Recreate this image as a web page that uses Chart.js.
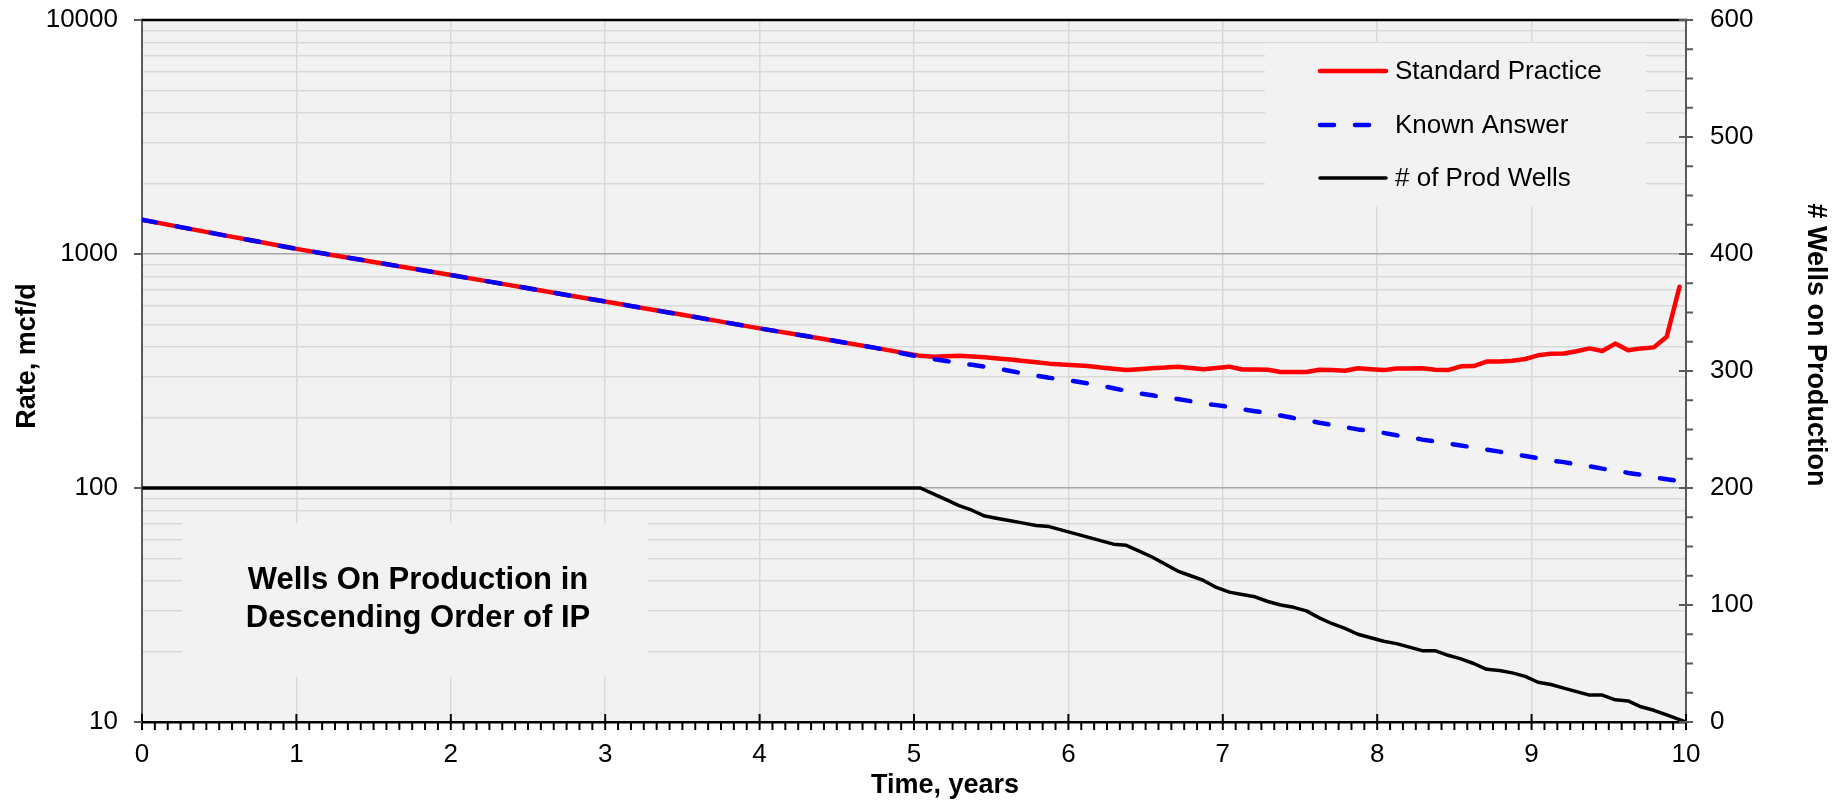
<!DOCTYPE html>
<html>
<head>
<meta charset="utf-8">
<title>Wells On Production</title>
<script src="https://cdn.jsdelivr.net/npm/chart.js@4.4.1/dist/chart.umd.min.js"></script>
<style>
  html, body { margin: 0; padding: 0; background: #ffffff; }
  canvas { display: block; }
</style>
</head>
<body>
<canvas id="wellsChart" width="1841" height="802"></canvas>
<script>
// Values.
// Rate curves: quarterly points in the first five years, mid-month points after that.
const rateMonths = [
    0, 3, 6, 9, 12, 15, 18, 21, 24, 27, 30, 33, 36, 39, 42, 45, 48, 51, 54, 57,
    60.5, 61.5, 62.5, 63.5, 64.5, 65.5, 66.5, 67.5, 68.5, 69.5,
    70.5, 71.5, 72.5, 73.5, 74.5, 75.5, 76.5, 77.5, 78.5, 79.5,
    80.5, 81.5, 82.5, 83.5, 84.5, 85.5, 86.5, 87.5, 88.5, 89.5,
    90.5, 91.5, 92.5, 93.5, 94.5, 95.5, 96.5, 97.5, 98.5, 99.5,
    100.5, 101.5, 102.5, 103.5, 104.5, 105.5, 106.5, 107.5, 108.5, 109.5,
    110.5, 111.5, 112.5, 113.5, 114.5, 115.5, 116.5, 117.5, 118.5, 119.5
];

const standardPractice = [
    1400, 1303, 1213, 1130, 1052, 986, 925, 867, 813, 762, 714, 668, 627, 586, 550, 514, 481, 452, 424, 397,
    367, 364, 366, 367, 365, 362, 358, 354, 349, 345,
    340, 337, 335, 332, 327, 323, 319, 322, 325, 327,
    330, 326, 322, 326, 330, 321, 321, 320, 313, 313,
    313, 320, 319, 317, 325, 322, 319, 324, 324, 325,
    320, 319, 331, 332, 347, 347, 350, 356, 369, 375,
    376, 384, 395, 385, 414, 388, 395, 399, 443, 725
];

const knownAnswer = [
    1400, 1303, 1213, 1130, 1052, 986, 925, 867, 813, 762, 714, 668, 627, 586, 550, 514, 481, 452, 424, 397,
    363, 356, 349, 342, 336, 330, 324, 316, 309, 302,
    296, 291, 286, 280, 274, 267, 260, 254, 249, 244,
    240, 235, 230, 226, 222, 217, 213, 209, 204, 199,
    195, 190, 186, 182, 178, 175, 172, 168, 165, 161,
    158, 155, 152, 149, 146, 143, 140, 137, 134, 131,
    129, 126, 124, 121, 119, 116, 114, 111, 109, 107
];

// Wells on production: flat at 200 for five years, then one curve point per month
const wellMonths = [
    0,
    60.5, 61.5, 62.5, 63.5, 64.5, 65.5, 66.5, 67.5, 68.5, 69.5,
    70.5, 71.5, 72.5, 73.5, 74.5, 75.5, 76.5, 77.5, 78.5, 79.5,
    80.5, 81.5, 82.5, 83.5, 84.5, 85.5, 86.5, 87.5, 88.5, 89.5,
    90.5, 91.5, 92.5, 93.5, 94.5, 95.5, 96.5, 97.5, 98.5, 99.5,
    100.5, 101.5, 102.5, 103.5, 104.5, 105.5, 106.5, 107.5, 108.5, 109.5,
    110.5, 111.5, 112.5, 113.5, 114.5, 115.5, 116.5, 117.5, 118.5, 119.5,
    120
];

const prodWells = [
    200,
    200, 195, 190, 185, 181, 176, 174, 172, 170, 168,
    167, 164, 161, 158, 155, 152, 151, 146, 141, 135,
    129, 125, 121, 115, 111, 109, 107, 103, 100, 98,
    95, 89, 84, 80, 75, 72, 69, 67, 64, 61,
    61, 57, 54, 50, 45, 44, 42, 39, 34, 32,
    29, 26, 23, 23, 19, 18, 13, 10, 6, 2,
    0
];

// Axis ticks
const yearTicks = [0, 1, 2, 3, 4, 5, 6, 7, 8, 9, 10];
const rateTicks = [10, 100, 1000, 10000];
const rateSteps = [1, 2, 3, 4, 5, 6, 7, 8, 9];
const wellTicks = [0, 100, 200, 300, 400, 500, 600];

const FONT = "'Liberation Sans', Arial, Helvetica, sans-serif";
const PLOT_BG = '#f2f2f2';
const AXIS_GRAY = '#595959';

Chart.defaults.font.family = FONT;
Chart.defaults.color = '#000000';

const toPoints = (months, values) => months.map((m, i) => ({ x: m / 12, y: values[i] }));

// every grid line of the log axis: 1..9 per decade
const rateGrid = rateTicks.slice(0, -1)
    .flatMap(d => rateSteps.map(s => s * d))
    .concat(rateTicks[rateTicks.length - 1]);

// plot background, text boxes, tick marks, titles and legend
const plotDecor = {
    id: 'plotDecor',
    beforeDraw(chart) {
        const { ctx, chartArea: a } = chart;
        ctx.save();
        ctx.fillStyle = PLOT_BG;
        ctx.fillRect(a.left, a.top, a.right - a.left, a.bottom - a.top);
        ctx.restore();
    },
    beforeDatasetsDraw(chart) {
        // the two text boxes hide the grid behind them
        const { ctx, chartArea: a } = chart;
        ctx.save();
        ctx.fillStyle = PLOT_BG;
        ctx.fillRect(a.left + 40, a.top + 503, 466, 154);
        ctx.fillRect(a.right - 421, a.top + 23, 381, 164);
        ctx.restore();
    },
    afterDraw(chart) {
        const { ctx, chartArea: a } = chart;
        const { x, y, y2 } = chart.scales;
        ctx.save();

        // top frame line
        ctx.strokeStyle = '#000000';
        ctx.lineWidth = 2.5;
        ctx.beginPath();
        ctx.moveTo(a.left - 1, a.top);
        ctx.lineTo(a.right + 1, a.top);
        ctx.stroke();

        // x ticks: years cross the axis, months outside
        ctx.lineWidth = 2;
        for (let m = 0; m <= 120; m++) {
            const px = x.getPixelForValue(m / 12);
            const major = m % 12 === 0;
            ctx.beginPath();
            ctx.moveTo(px, a.bottom - (major ? 8 : 0));
            ctx.lineTo(px, a.bottom + 8);
            ctx.stroke();
        }

        // left ticks, decades only
        ctx.strokeStyle = AXIS_GRAY;
        rateTicks.forEach(v => {
            const py = y.getPixelForValue(v);
            ctx.beginPath();
            ctx.moveTo(a.left - 8, py);
            ctx.lineTo(a.left, py);
            ctx.stroke();
        });

        // right ticks: majors cross, minors every 25 outside
        for (let v = 0; v <= 600; v += 25) {
            const py = y2.getPixelForValue(v);
            const major = v % 100 === 0;
            ctx.beginPath();
            ctx.moveTo(a.right - (major ? 7 : 0), py);
            ctx.lineTo(a.right + 7, py);
            ctx.stroke();
        }

        // axis titles
        ctx.fillStyle = '#000000';
        ctx.font = 'bold 27px ' + FONT;
        ctx.textAlign = 'center';
        ctx.textBaseline = 'alphabetic';
        ctx.fillText('Time, years', 945, 793);

        ctx.save();
        ctx.translate(35, 356);
        ctx.rotate(-Math.PI / 2);
        ctx.fillText('Rate, mcf/d', 0, 0);
        ctx.restore();

        ctx.save();
        ctx.translate(1808, 345);
        ctx.rotate(Math.PI / 2);
        ctx.fillText('# Wells on Production', 0, 0);
        ctx.restore();

        // note in the lower left box
        ctx.font = 'bold 31px ' + FONT;
        ctx.textBaseline = 'middle';
        ctx.fillText('Wells On Production in', a.left + 276, a.top + 560);
        ctx.fillText('Descending Order of IP', a.left + 276, a.top + 598);

        // legend
        ctx.font = '26px ' + FONT;
        ctx.textAlign = 'left';
        const rows = [51, 105, 158];
        chart.data.datasets.forEach((ds, i) => {
            const ly = a.top + rows[i];
            ctx.strokeStyle = ds.borderColor;
            ctx.lineWidth = ds.borderWidth;
            ctx.lineCap = 'round';
            ctx.setLineDash(ds.borderDash || []);
            ctx.beginPath();
            ctx.moveTo(a.right - 366, ly);
            ctx.lineTo(a.right - 300, ly);
            ctx.stroke();
            ctx.setLineDash([]);
            ctx.fillText(ds.label, a.right - 291, ly + 1);
        });

        ctx.restore();
    }
};

const ctx = document.getElementById('wellsChart').getContext('2d');
new Chart(ctx, {
    type: 'line',
    data: {
        datasets: [
            {
                label: 'Standard Practice',
                data: toPoints(rateMonths, standardPractice),
                yAxisID: 'y',
                borderColor: '#ff0000',
                borderWidth: 4.5,
                borderCapStyle: 'round',
                borderJoinStyle: 'round',
                pointRadius: 0,
                tension: 0,
                order: 1
            },
            {
                label: 'Known Answer',
                data: toPoints(rateMonths, knownAnswer),
                yAxisID: 'y',
                borderColor: '#0000ff',
                borderWidth: 4.5,
                borderDash: [14, 21],
                borderCapStyle: 'round',
                borderJoinStyle: 'round',
                pointRadius: 0,
                tension: 0,
                order: 0
            },
            {
                label: '# of Prod Wells',
                data: toPoints(wellMonths, prodWells),
                yAxisID: 'y2',
                borderColor: '#000000',
                borderWidth: 3.5,
                borderCapStyle: 'round',
                borderJoinStyle: 'round',
                pointRadius: 0,
                tension: 0,
                order: 2
            }
        ]
    },
    options: {
        responsive: false,
        animation: false,
        devicePixelRatio: 1,
        layout: { padding: { top: 20, left: 0, right: 0, bottom: 0 } },
        plugins: {
            legend: { display: false },
            tooltip: { enabled: false }
        },
        scales: {
            x: {
                type: 'linear',
                min: 0,
                max: 10,
                afterBuildTicks: s => { s.ticks = yearTicks.map(v => ({ value: v })); },
                afterFit: s => { s.height = 80; s.paddingLeft = 0; s.paddingRight = 0; },
                ticks: {
                    autoSkip: false,
                    maxRotation: 0,
                    padding: 17,
                    font: { size: 26 },
                    color: '#000000'
                },
                grid: {
                    drawTicks: false,
                    lineWidth: 1.5,
                    color: c => (c.tick && (c.tick.value === 0 || c.tick.value === 10)) ? 'rgba(0,0,0,0)' : '#d9d9d9'
                },
                border: { color: '#000000', width: 2.5 }
            },
            y: {
                type: 'logarithmic',
                position: 'left',
                min: 10,
                max: 10000,
                afterBuildTicks: s => { s.ticks = rateGrid.map(v => ({ value: v })); },
                afterFit: s => { s.width = 142; s.paddingTop = 0; s.paddingBottom = 0; },
                ticks: {
                    autoSkip: false,
                    padding: 24,
                    font: { size: 26 },
                    color: '#000000',
                    callback: v => rateTicks.includes(v) ? String(v) : ''
                },
                grid: {
                    drawTicks: false,
                    lineWidth: 1.5,
                    color: c => {
                        const v = c.tick ? c.tick.value : null;
                        if (v === 10 || v === 10000) return 'rgba(0,0,0,0)';
                        return rateTicks.includes(v) ? '#a6a6a6' : '#d9d9d9';
                    }
                },
                border: { color: AXIS_GRAY, width: 2 }
            },
            y2: {
                type: 'linear',
                position: 'right',
                min: 0,
                max: 600,
                afterBuildTicks: s => { s.ticks = wellTicks.map(v => ({ value: v })); },
                afterFit: s => { s.width = 155; s.paddingTop = 0; s.paddingBottom = 0; },
                ticks: {
                    autoSkip: false,
                    padding: 24,
                    font: { size: 26 },
                    color: '#000000'
                },
                grid: { drawOnChartArea: false, drawTicks: false },
                border: { color: AXIS_GRAY, width: 2 }
            }
        }
    },
    plugins: [plotDecor]
});
</script>
</body>
</html>
